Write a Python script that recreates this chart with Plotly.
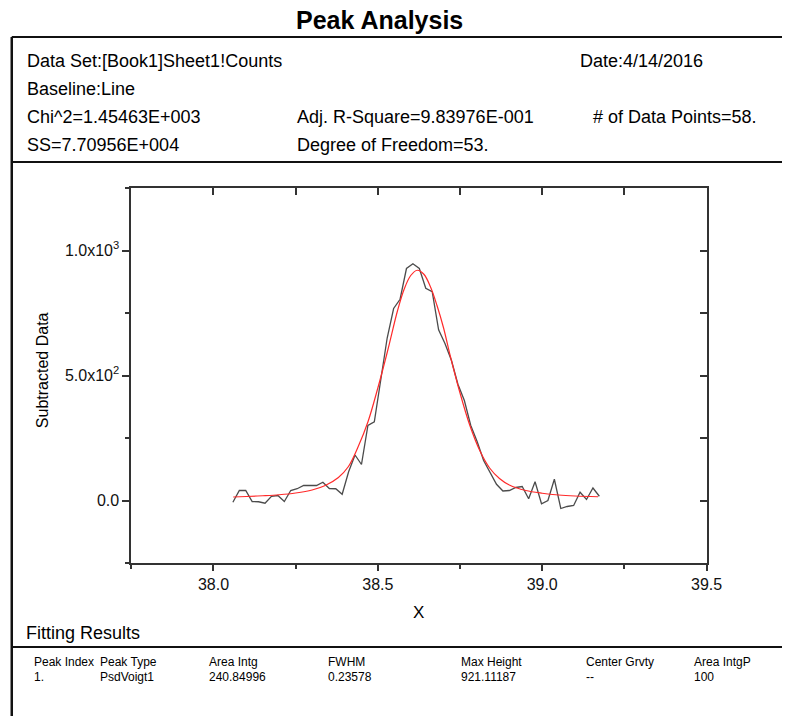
import plotly.graph_objects as go

W, H = 798, 716

# ---- data ----
x_data = [38.059, 38.0786, 38.0981, 38.1177, 38.1372, 38.1568, 38.1764, 38.1959, 38.2155, 38.235,
          38.2546, 38.2742, 38.2937, 38.3133, 38.3328, 38.3524, 38.372, 38.3915, 38.4111, 38.4306,
          38.4502, 38.4698, 38.4893, 38.5089, 38.5284, 38.548, 38.5676, 38.5871, 38.6067, 38.6262,
          38.6458, 38.6654, 38.6849, 38.7045, 38.724, 38.7436, 38.7632, 38.7827, 38.8023, 38.8218,
          38.8414, 38.861, 38.8805, 38.9001, 38.9196, 38.9392, 38.9588, 38.9783, 38.9979, 39.0174,
          39.037, 39.0566, 39.0761, 39.0957, 39.1152, 39.1348, 39.1544, 39.1739]
y_data = [-7, 40, 40, -4, -5, -11, 17, 20, -4, 40,
          47, 60, 60, 60, 73, 48, 47, 25, 115, 182,
          144, 300, 315, 490, 650, 768, 805, 928, 947, 928,
          849, 835, 683, 627, 560, 465, 400, 300, 235, 160,
          115, 65, 38, 40, 52, 56, 7, 75, -13, 0,
          85, -32, -24, -20, 33, 4, 50, 17]

x_fit = [38.06, 38.10, 38.15, 38.20, 38.25, 38.30, 38.34, 38.38, 38.41, 38.44,
         38.47, 38.50, 38.53, 38.56, 38.58, 38.60, 38.62, 38.64, 38.66, 38.68,
         38.70, 38.72, 38.75, 38.78, 38.81, 38.84, 38.87, 38.90, 38.95, 39.00,
         39.05, 39.10, 39.17]
y_fit = [14, 16, 19, 23, 30, 42, 60, 92, 135, 215,
         315, 450, 600, 760, 845, 900, 921, 905, 855, 780,
         690, 580, 430, 300, 200, 130, 88, 62, 40, 29,
         22, 18, 15]

y_tickvals = [0, 500, 1000]
y_ticktext = ["0.0", "5.0x10<sup>2</sup>", "1.0x10<sup>3</sup>"]

header_left = ["Data Set:[Book1]Sheet1!Counts", "Baseline:Line", "Chi^2=1.45463E+003", "SS=7.70956E+004"]
header_mid = ["Adj. R-Square=9.83976E-001", "Degree of Freedom=53."]
header_right = ["Date:4/14/2016", "# of Data Points=58."]

table_headers = ["Peak Index", "Peak Type", "Area Intg", "FWHM", "Max Height", "Center Grvty", "Area IntgP"]
table_values = ["1.", "PsdVoigt1", "240.84996", "0.23578", "921.11187", "--", "100"]

FONT = "Liberation Sans, Arial, sans-serif"

def px(x):
    return x / W

def py(y):
    return 1 - y / H

fig = go.Figure()
fig.add_trace(go.Scatter(x=x_data, y=y_data, mode="lines",
                         line=dict(color="rgba(55,55,55,0.9)", width=1.3),
                         showlegend=False, hoverinfo="skip"))
fig.add_trace(go.Scatter(x=x_fit, y=y_fit, mode="lines", line_shape="spline",
                         line=dict(color="#ff2a2a", width=1.2),
                         xaxis="x2", yaxis="y2",
                         showlegend=False, hoverinfo="skip"))

xdom = [px(134), px(721)]
ydom = [py(563), py(188)]
axcol = "#333333"

fig.update_layout(
    width=W, height=H,
    margin=dict(l=0, r=0, t=0, b=0),
    paper_bgcolor="white", plot_bgcolor="white",
    font=dict(family=FONT, color="black"),
    xaxis=dict(domain=xdom, range=[37.75, 39.5], tick0=38, dtick=0.5, tickformat=".1f",
               ticks="outside", ticklen=6, tickwidth=1.5, tickcolor=axcol,
               minor=dict(dtick=0.25, tick0=37.75, ticks="outside", ticklen=4, tickwidth=1.5, tickcolor=axcol),
               showline=True, linecolor=axcol, linewidth=1.8, showgrid=False, zeroline=False,
               tickfont=dict(size=16, color="#111"), anchor="y"),
    yaxis=dict(domain=ydom, range=[-250, 1250], tickmode="array", tickvals=y_tickvals, ticktext=y_ticktext,
               ticks="outside", ticklen=7, tickwidth=1.5, tickcolor=axcol,
               minor=dict(dtick=250, tick0=0, ticks="outside", ticklen=4, tickwidth=1.5, tickcolor=axcol),
               showline=True, linecolor=axcol, linewidth=1.8, showgrid=False, zeroline=False,
               tickfont=dict(size=16, color="#111"), anchor="x"),
    xaxis2=dict(overlaying="x", side="top", anchor="y2", range=[37.75, 39.5], tick0=38, dtick=0.25,
                ticks="inside", ticklen=7, tickwidth=1.5, tickcolor=axcol, showticklabels=False,
                showline=True, linecolor=axcol, linewidth=1.8, showgrid=False, zeroline=False),
    yaxis2=dict(overlaying="y", side="right", anchor="x2", range=[-250, 1250], tick0=0, dtick=250,
                ticks="inside", ticklen=7, tickwidth=1.5, tickcolor=axcol, showticklabels=False,
                showline=True, linecolor=axcol, linewidth=1.8, showgrid=False, zeroline=False),
)

shapes = []
lc = dict(color="#111", width=2)
shapes.append(dict(type="line", xref="paper", yref="paper", x0=px(12), x1=1, y0=py(37), y1=py(37), line=lc))
shapes.append(dict(type="line", xref="paper", yref="paper", x0=px(12), x1=px(12), y0=py(37), y1=0, line=dict(color="#111", width=2.5)))
shapes.append(dict(type="line", xref="paper", yref="paper", x0=px(12), x1=1, y0=py(162), y1=py(162), line=lc))
shapes.append(dict(type="line", xref="paper", yref="paper", x0=px(12), x1=1, y0=py(647), y1=py(647), line=lc))
fig.update_layout(shapes=shapes)

ann = []
def text(t, x, y, size, xanchor="left", bold=False, angle=0):
    ann.append(dict(text=("<b>%s</b>" % t) if bold else t, x=px(x), y=py(y), xref="paper", yref="paper",
                    xanchor=xanchor, yanchor="middle", showarrow=False, textangle=angle,
                    font=dict(size=size, family=FONT, color="black")))

text("Peak Analysis", 387, 20, 25, xanchor="center", bold=True)
hy = [61, 89, 117, 145]
for t, y in zip(header_left, hy):
    text(t, 26, y, 18)
for t, y in zip(header_mid, [117, 145]):
    text(t, 301, y, 18)
for t, (x, y) in zip(header_right, [(590, 61), (603, 117)]):
    text(t, x, y, 18)

text("X", 427, 612, 17, xanchor="center")
text("Subtracted Data", 43, 370, 16, xanchor="center", angle=-90)
text("Fitting Results", 25, 633, 18)

col_x = [33, 100, 211, 333, 468, 596, 706]
for t, x in zip(table_headers, col_x):
    text(t, x, 662, 12)
for t, x in zip(table_values, col_x):
    text(t, x, 677, 12)

fig.update_layout(annotations=ann)
fig.write_html("out.html")
